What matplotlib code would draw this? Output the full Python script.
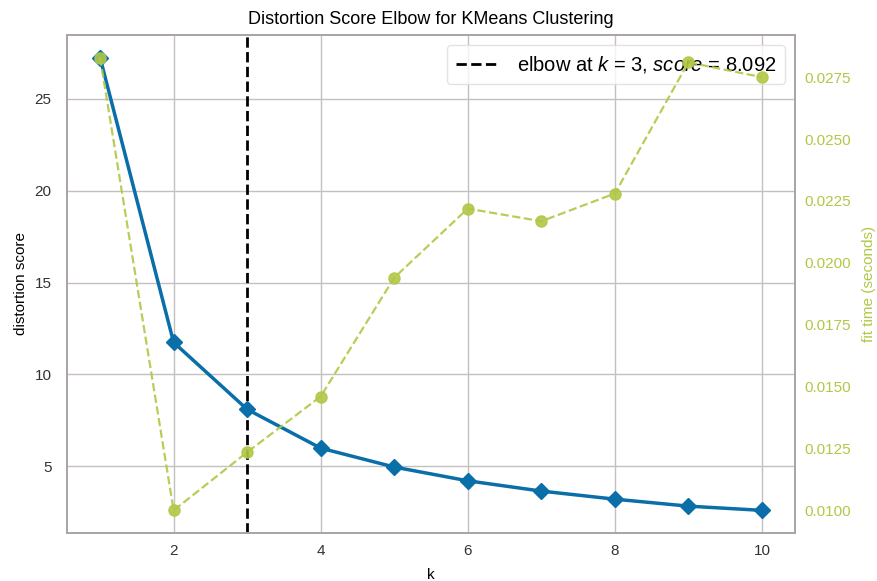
import numpy as np
import matplotlib.pyplot as plt

plt.rcParams['font.family'] = ['Liberation Sans', 'DejaVu Sans']
plt.rcParams['mathtext.fontset'] = 'custom'
plt.rcParams['mathtext.rm'] = 'Liberation Sans'
plt.rcParams['mathtext.it'] = 'Liberation Sans:italic'

# k values and scores
k_values = [1, 2, 3, 4, 5, 6, 7, 8, 9, 10]
distortion = [27.25, 11.74, 8.092, 5.98, 4.95, 4.20, 3.64, 3.20, 2.82, 2.59]
fit_time = [0.02829, 0.0100, 0.01235, 0.0146, 0.0194, 0.02219, 0.02168, 0.0228, 0.0281, 0.0275]
elbow_k = 3
elbow_score = 8.092

blue = '#0a6fa8'
green = '#b0c845'
grid_col = '#c6bfbf'

fig = plt.figure(figsize=(8.78, 5.81), dpi=100)
ax = fig.add_axes([0.0763, 0.0826, 0.8292, 0.8572])

ax.plot(k_values, distortion, color=blue, marker='D', markersize=8, linewidth=2.5, zorder=3)
ax.axvline(elbow_k, color='black', linestyle='--', linewidth=2,
           label='elbow at $k$ = {}, $score$ = {:0.3f}'.format(elbow_k, elbow_score))

ax.set_title('Distortion Score Elbow for KMeans Clustering', fontsize=13, pad=8)
ax.set_xlabel('k', fontsize=11, labelpad=7)
ax.set_ylabel('distortion score', fontsize=11, labelpad=5)
ax.set_xticks([2, 4, 6, 8, 10])
ax.set_yticks([5, 10, 15, 20, 25])
ax.tick_params(length=0, labelsize=11, colors='#333333')
ax.tick_params('y', pad=11)
ax.tick_params('x', pad=8)
ax.grid(True, color=grid_col, linewidth=1)
ax.set_axisbelow(True)
for s in ax.spines.values():
    s.set_color('#a9a3a3')
    s.set_linewidth(1.2)

leg = ax.legend(loc='upper right', fontsize=14.5, frameon=True, framealpha=0.8,
                fancybox=True, handlelength=2.2, borderpad=0.45)
leg.get_frame().set_edgecolor('#dddddd')

ax2 = ax.twinx()
ax2.plot(k_values, fit_time, color=green, marker='o', markersize=8, linestyle='--',
         linewidth=1.6, alpha=0.9)
ax2.set_ylabel('fit time (seconds)', color=green, fontsize=11, labelpad=8)
ax2.tick_params('y', colors=green, length=0, labelsize=11, pad=7)
ax2.set_yticks([0.0100, 0.0125, 0.0150, 0.0175, 0.0200, 0.0225, 0.0250, 0.0275])
ax2.yaxis.set_major_formatter(plt.FormatStrFormatter('%.4f'))
ax2.grid(False)
for s in ax2.spines.values():
    s.set_color('#a9a3a3')
    s.set_linewidth(1.2)

fig.savefig('out.png', dpi=100)
